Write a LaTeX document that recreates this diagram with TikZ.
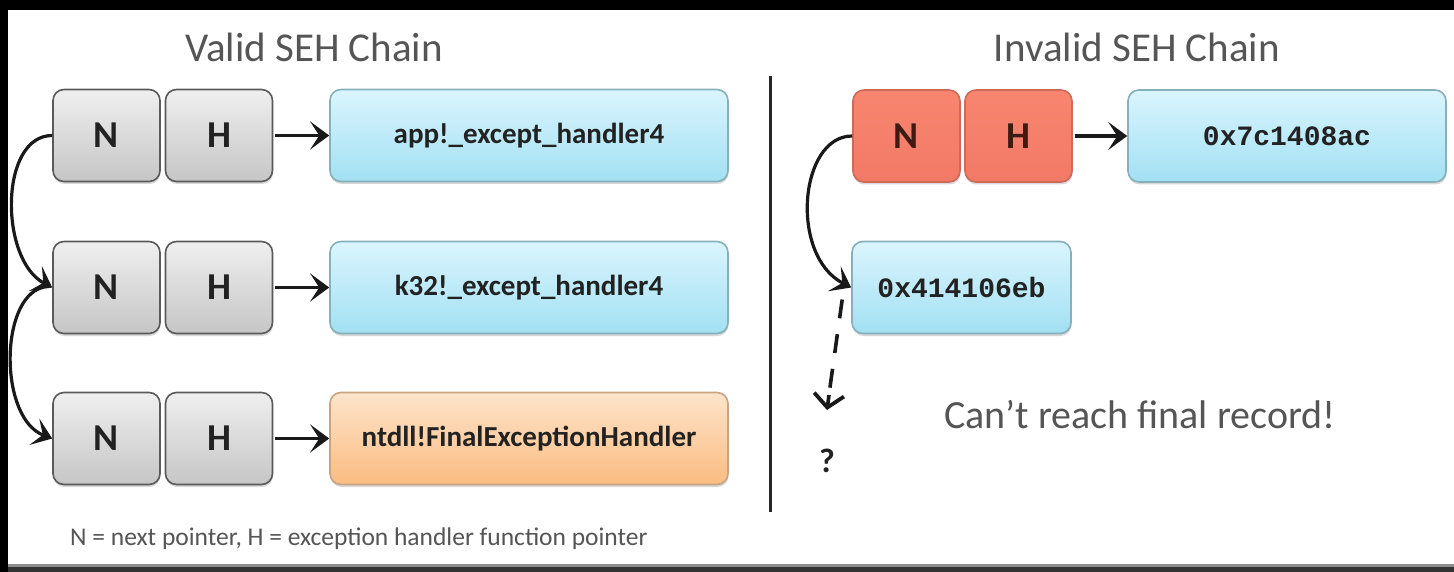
\documentclass[tikz,border=0pt]{standalone}
\usepackage{fontspec}
\setmainfont{Carlito}
\newfontfamily\monof{Liberation Mono}
\usetikzlibrary{arrows.meta,shadows,calc}
\definecolor{graytop}{HTML}{EFEFEF}
\definecolor{graybot}{HTML}{C6C6C6}
\definecolor{grayline}{HTML}{5A5A5A}
\definecolor{bluetop}{HTML}{DAF5FD}
\definecolor{bluebot}{HTML}{A2E0F3}
\definecolor{blueline}{HTML}{86B0BC}
\definecolor{oratop}{HTML}{FDE4CA}
\definecolor{orabot}{HTML}{FBBC82}
\definecolor{oraline}{HTML}{C9A483}
\definecolor{redtop}{HTML}{F8856F}
\definecolor{redbot}{HTML}{F27A66}
\definecolor{redline}{HTML}{D0695B}
\definecolor{titlegray}{HTML}{555555}
\definecolor{labdark}{HTML}{222222}
\definecolor{reddark}{HTML}{3E1A14}
\tikzset{
  recbox/.style={line width=1.6pt, rounded corners=11pt, minimum height=92pt, inner sep=0pt,
     drop shadow={opacity=0.25, shadow xshift=0.5pt, shadow yshift=-2.5pt, fill=black!60}},
  nhbox/.style={recbox, draw=grayline, top color=graytop, bottom color=graybot,
     minimum width=107pt, text=labdark, font=\fontsize{38}{40}\selectfont\bfseries},
  redbox/.style={recbox, draw=redline, top color=redtop, bottom color=redbot,
     minimum width=107pt, text=reddark, font=\fontsize{38}{40}\selectfont\bfseries},
  bluebox/.style={recbox, draw=blueline, top color=bluetop, bottom color=bluebot,
     text=labdark, font=\fontsize{29}{32}\selectfont\bfseries},
  orabox/.style={recbox, draw=oraline, top color=oratop, bottom color=orabot,
     text=labdark, font=\fontsize{29}{32}\selectfont\bfseries},
  monolab/.style={font=\monof\fontsize{28}{30}\selectfont\bfseries},
  bigtip/.style={-{Stealth[length=19pt,width=28pt,inset=9pt]}},
  harrow/.style={line width=3.4pt, bigtip, black!90},
  carrow/.style={line width=3.2pt, bigtip, black!90},
  dashline/.style={line width=3.6pt, dash pattern=on 19pt off 16pt, black!90},
  dashtip/.style={line width=3.6pt, -{Straight Barb[length=13pt,width=30pt,line width=3.8pt]}, black!90},
  titletext/.style={text=titlegray, font=\fontsize{41}{45}\selectfont, anchor=base, inner sep=0pt},
}
\begin{document}
\begin{tikzpicture}[x=1pt,y=-1pt]
\useasboundingbox (0,0) rectangle (1454,572);
\fill[black] (0,0) rectangle (1454,572);
\fill[white] (8,10) rectangle (1454,564);
\fill[black!45] (8,564) rectangle (1454,566.5);
\fill[black!80] (8,566.5) rectangle (1454,572);

% titles
\node[titletext] (tv) at (314,62) {Valid SEH Chain};
\node[titletext] (ti) at (1137,62) {Invalid SEH Chain};

% left chain
\node[nhbox] (n1) at (106.5,135.5) {N};
\node[nhbox] (h1) at (219,135.5) {H};
\node[bluebox, minimum width=398pt] (b1) at (529,135.5) {app!\_except\_handler4};

\node[nhbox] (n2) at (106.5,287.5) {N};
\node[nhbox] (h2) at (219,287.5) {H};
\node[bluebox, minimum width=398pt] (b2) at (529,287.5) {k32!\_except\_handler4};

\node[nhbox] (n3) at (106.5,438.5) {N};
\node[nhbox] (h3) at (219,438.5) {H};
\node[orabox, minimum width=398pt] (b3) at (529,438.5) {ntdll!FinalExceptionHandler};

\draw[harrow, shorten <=2pt] (h1.east) -- (b1.west);
\draw[harrow, shorten <=2pt] (h2.east) -- (b2.west);
\draw[harrow, shorten <=2pt] (h3.east) -- (b3.west);

\draw[carrow] (n1.west) .. controls +(-53,0) and +(-53,-28) .. (n2.west);
\draw[carrow] ([xshift=-10pt]n2.west) .. controls +(-43,12) and +(-53,-20) .. (n3.west);

% footnote
\node[text=titlegray, font=\fontsize{25.5}{28}\selectfont, anchor=base west, inner sep=0pt] (foot) at (70,545)
  {N = next pointer, H = exception handler function pointer};

% divider
\draw[line width=3pt, black!85] (770,76) -- (770,512);

% right chain
\node[redbox] (rn) at (906.5,136) {N};
\node[redbox] (rh) at (1018.5,136) {H};
\node[bluebox, monolab, minimum width=318pt] (rb) at (1287,136) {0x7c1408ac};
\node[bluebox, monolab, minimum width=219pt] (rb2) at (961.5,287.5) {0x414106eb};

\draw[harrow, shorten <=2pt] (rh.east) -- (rb.west);
\draw[carrow] (rn.west) .. controls +(-53,0) and +(-62,-32) .. (rb2.west);

\coordinate (dend) at (827,410);
\draw[dashline] ([xshift=-9pt,yshift=-12pt]rb2.west) -- ($(dend)+(1.5,-12)$);
\draw[dashtip] ($(dend)+(2,-15)$) -- (dend);

\node[text=labdark, font=\fontsize{34}{36}\selectfont\bfseries, anchor=base, inner sep=0pt] (q) at (827,472) {?};
\node[text=titlegray, font=\fontsize{40}{44}\selectfont, anchor=base, inner sep=0pt] (cant) at (1140,428) {Can’t reach final record!};
\end{tikzpicture}
\end{document}
